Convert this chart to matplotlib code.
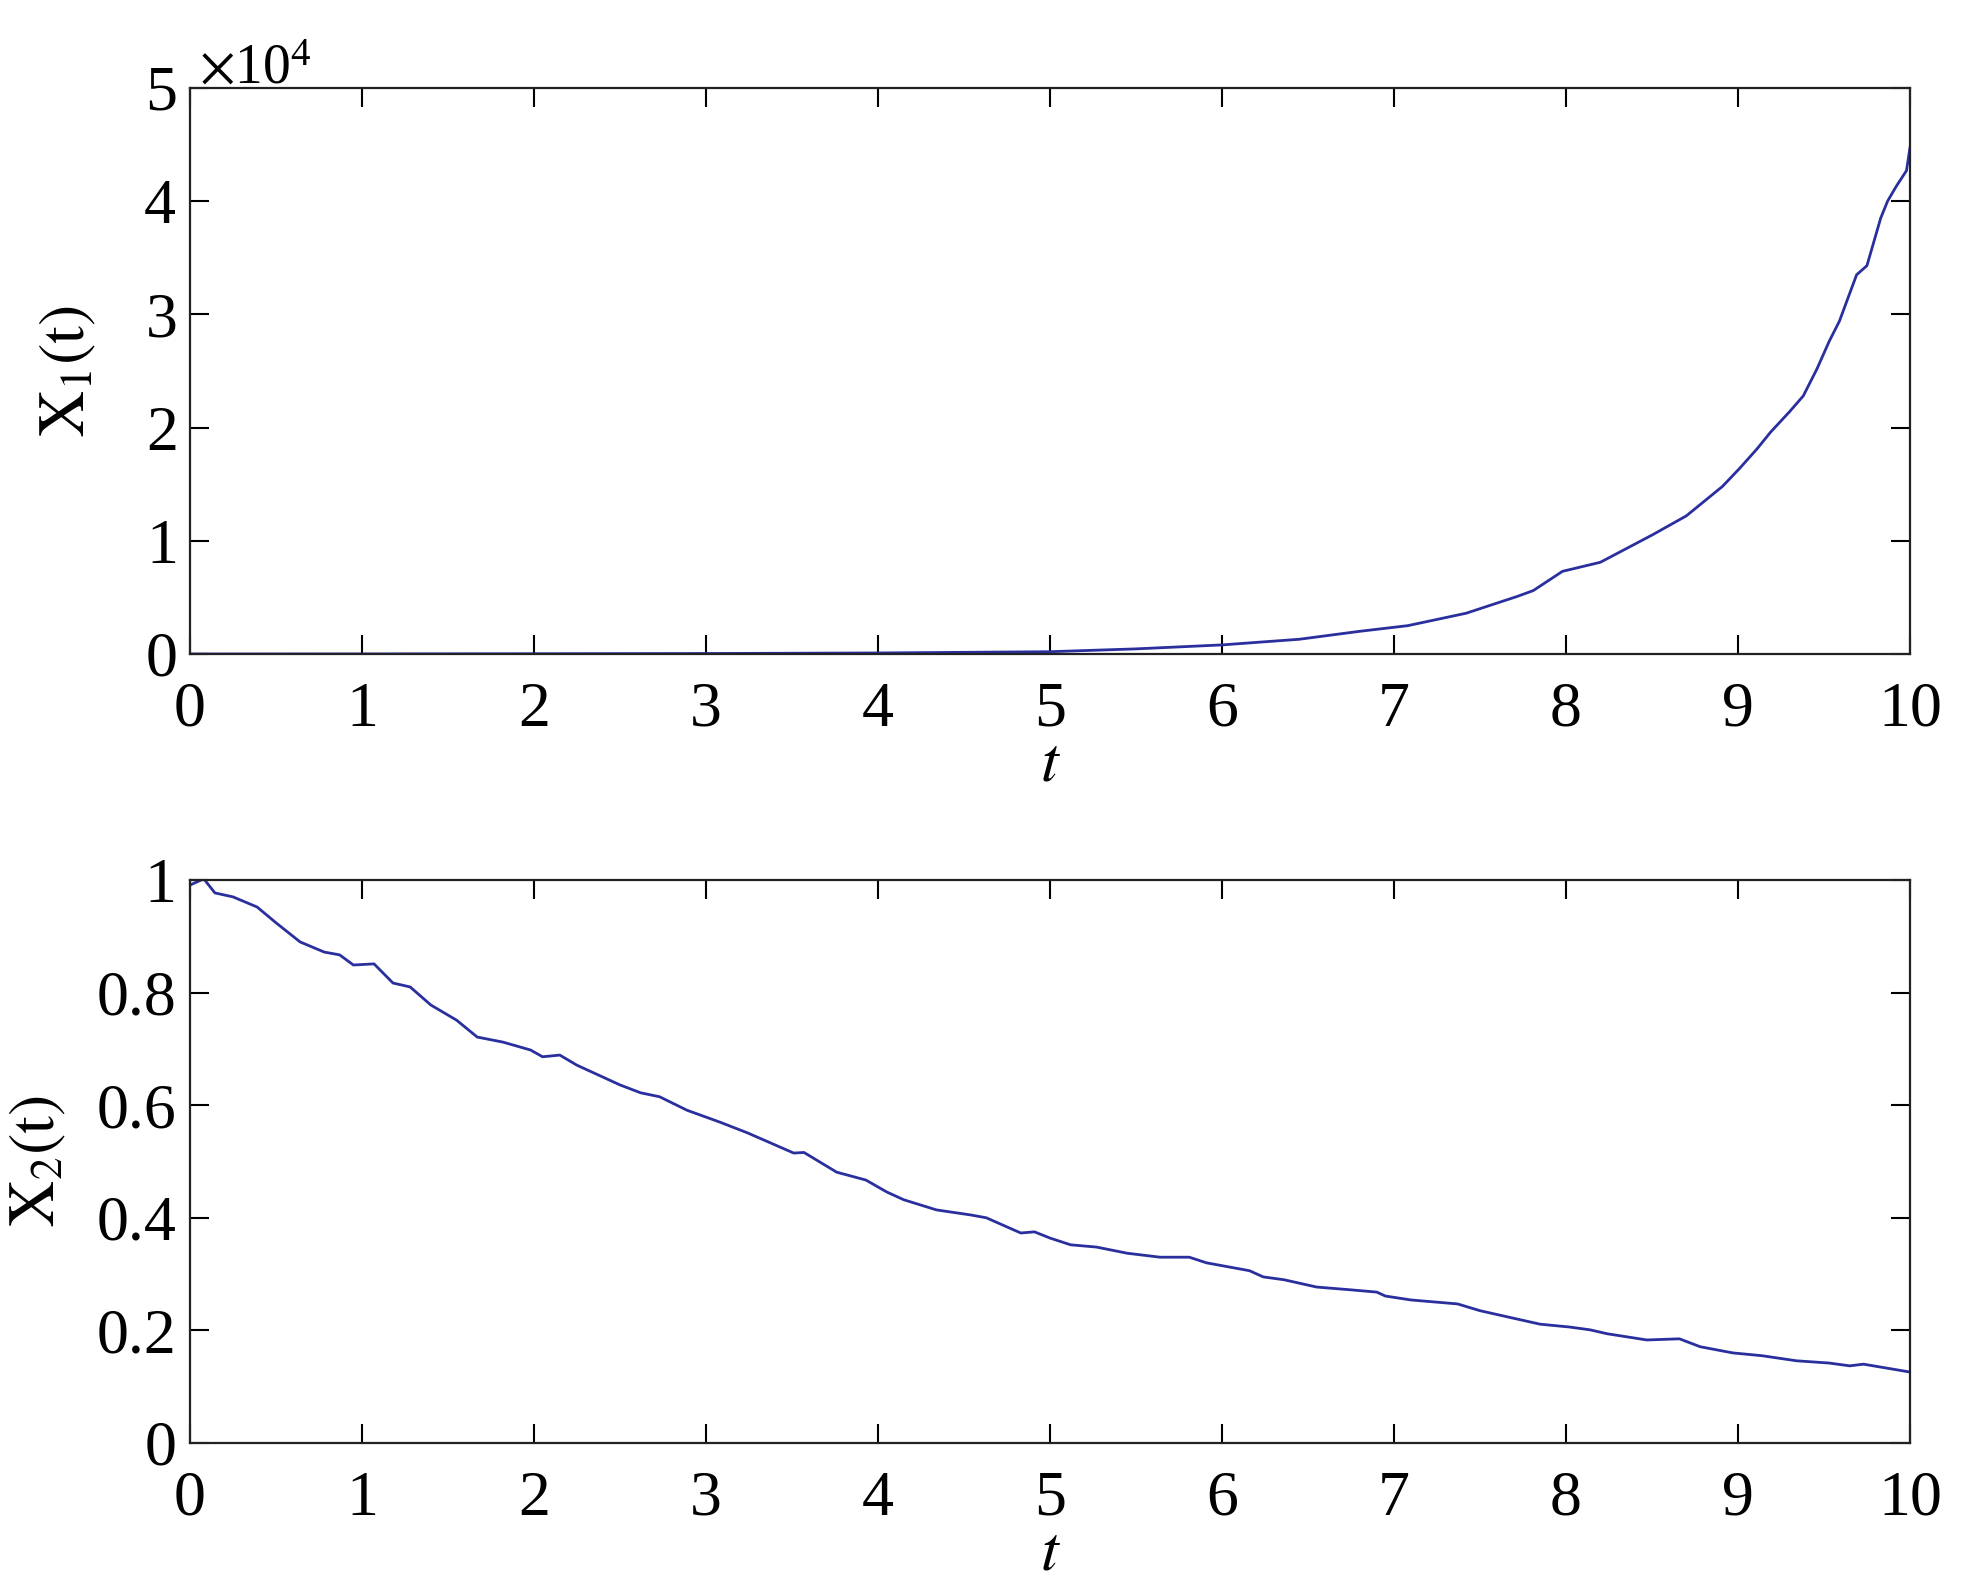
import numpy as np
import matplotlib.pyplot as plt
from matplotlib.ticker import ScalarFormatter

plt.rcParams['font.family'] = ['Liberation Serif', 'DejaVu Serif']
plt.rcParams['mathtext.fontset'] = 'stix'

t1 = [0, 1, 2, 3, 4, 5, 5.5, 6, 6.45, 6.8, 7.08, 7.42, 7.72, 7.81, 7.98, 8.2,
      8.5, 8.7, 8.91, 9.01, 9.11, 9.19, 9.3, 9.38, 9.46, 9.53, 9.59, 9.69,
      9.75, 9.83, 9.87, 9.92, 9.98, 10.0]
x1 = [0, 5, 20, 40, 90, 200, 450, 800, 1300, 2000, 2500, 3600, 5100, 5600,
      7300, 8100, 10500, 12200, 14800, 16400, 18100, 19600, 21400, 22800,
      25200, 27600, 29400, 33500, 34300, 38500, 40000, 41300, 42700, 44700]

# X2(t)
t2 = [0, 0.08, 0.145, 0.25, 0.39, 0.5, 0.64, 0.78, 0.87, 0.95, 1.07, 1.18,
      1.28, 1.4, 1.55, 1.67, 1.82, 1.98, 2.05, 2.15, 2.25, 2.5, 2.62, 2.73,
      2.89, 3.08, 3.24, 3.51, 3.57, 3.76, 3.93, 4.05, 4.15, 4.34, 4.54, 4.63,
      4.83, 4.91, 5.0, 5.12, 5.27, 5.45, 5.64, 5.81, 5.91, 6.16, 6.24, 6.36,
      6.55, 6.75, 6.9, 6.95, 7.1, 7.37, 7.5, 7.66, 7.85, 8.02, 8.14, 8.24,
      8.47, 8.66, 8.78, 8.97, 9.14, 9.34, 9.53, 9.65, 9.73, 10.0]
x2 = [0.991, 1.002, 0.977, 0.970, 0.952, 0.924, 0.890, 0.872, 0.867, 0.849,
      0.851, 0.817, 0.810, 0.778, 0.751, 0.721, 0.712, 0.698, 0.686, 0.689,
      0.671, 0.636, 0.622, 0.615, 0.591, 0.570, 0.551, 0.515, 0.516, 0.481,
      0.467, 0.446, 0.432, 0.414, 0.405, 0.400, 0.373, 0.375, 0.364, 0.352,
      0.348, 0.337, 0.330, 0.330, 0.320, 0.306, 0.295, 0.290, 0.277, 0.272,
      0.268, 0.261, 0.254, 0.247, 0.235, 0.224, 0.211, 0.206, 0.201, 0.194,
      0.183, 0.185, 0.171, 0.160, 0.155, 0.146, 0.142, 0.137, 0.140, 0.126]

xticks = np.arange(0, 11, 1)
y1ticks = [0, 10000, 20000, 30000, 40000, 50000]
y2ticks = [0, 0.2, 0.4, 0.6, 0.8, 1.0]
y2labels = ['0', '0.2', '0.4', '0.6', '0.8', '1']

line_color = '#2a2f9e'
fs = 46

fig = plt.figure(figsize=(19.69, 15.85), dpi=100)
ax1 = fig.add_axes([0.0965, 0.5874, 0.8735, 0.3571])
ax2 = fig.add_axes([0.0965, 0.0896, 0.8735, 0.3552])


def style(ax):
    ax.set_xlim(0, 10)
    ax.set_xticks(xticks)
    ax.tick_params(direction='in', length=14, width=1.5, top=True, right=True,
                   labelsize=fs)
    ax.tick_params(axis='x', pad=20)
    ax.tick_params(axis='y', pad=10)
    for s in ax.spines.values():
        s.set_linewidth(1.6)
        s.set_color('#222222')
    ax.set_xlabel('$t$', fontsize=fs, labelpad=-2)


ax1.plot(t1, x1, color=line_color, lw=2.0)
style(ax1)
ax1.set_ylim(0, 50000)
ax1.set_yticks(y1ticks)
fmt = ScalarFormatter(useMathText=True)
fmt.set_powerlimits((0, 0))
ax1.yaxis.set_major_formatter(fmt)
ax1.yaxis.get_offset_text().set_fontsize(40)
ax1.yaxis.get_offset_text().set_x(0.005)
ax1.set_ylabel(r'$\mathrm{X_1(t)}$', fontsize=fs, labelpad=32)

ax2.plot(t2, x2, color=line_color, lw=2.0)
style(ax2)
ax2.set_ylim(0, 1.0)
ax2.set_yticks(y2ticks)
ax2.set_yticklabels(y2labels)
ax2.set_ylabel(r'$\mathrm{X_2(t)}$', fontsize=fs, labelpad=20)

fig.savefig('out.png', dpi=100)
